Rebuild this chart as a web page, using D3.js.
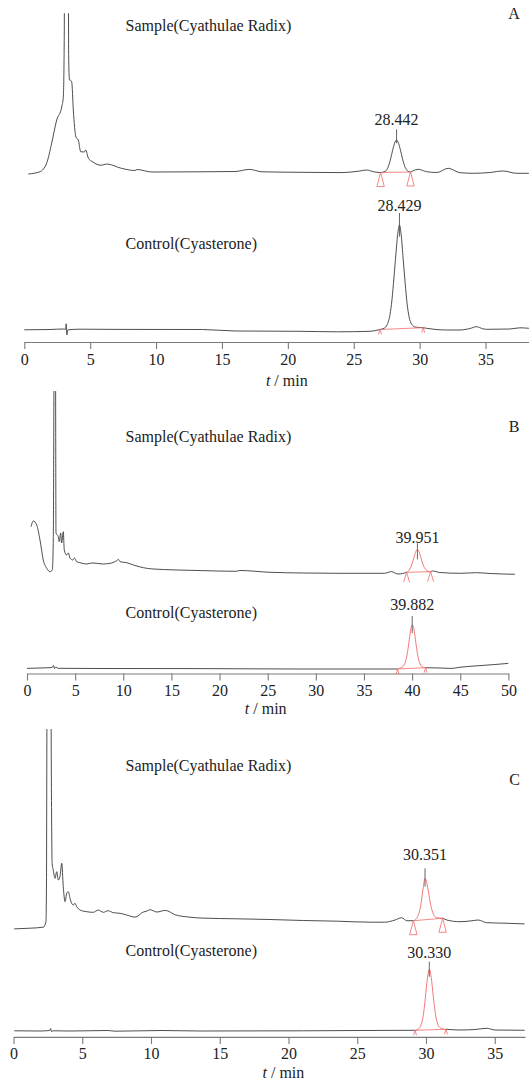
<!DOCTYPE html>
<html><head><meta charset="utf-8">
<script src="https://cdn.jsdelivr.net/npm/d3@7"></script>
<style>html,body{margin:0;padding:0;background:#fff;} svg{display:block;}</style>
</head><body>
<svg id="chart" width="529" height="1080"></svg>
<script>
// ===== data =====
const sampleTitle = "Sample(Cyathulae Radix)";
const controlTitle = "Control(Cyasterone)";
const panelLetters = ["A", "B", "C"];
const axisUnit = " / min";
const ticksA = [0, 5, 10, 15, 20, 25, 30, 35];
const ticksB = [0, 5, 10, 15, 20, 25, 30, 35, 40, 45, 50];
const ticksC = [0, 5, 10, 15, 20, 25, 30, 35];
const domainA = [0, 38.3];
const domainB = [0, 50];
const domainC = [0, 37.2];

// [time (min), signal (mAU above baseline)]
const sampleA = [[0.30,-0.7],[1.19,1.6],[1.70,10.3],[2.08,30.3],[2.46,53.3],[2.84,66.3],[2.96,76.3],[3.03,133],[3.10,400],[3.30,400],[3.37,113],[3.43,93.3],[3.51,93],[3.60,91.3],[3.72,63.3],[3.92,36.3],[4.10,33.3],[4.28,21.6],[4.55,21.3],[4.66,23.3],[4.86,15.3],[5.21,11.3],[5.83,8],[6.25,9.3],[7.37,5],[8.40,2.8],[8.55,3.8],[9.69,1.3],[13.33,1.5],[15.99,1.8],[17.10,3.9],[18.03,1.5],[20.92,1],[23.95,0.7],[25.47,2.3],[25.98,3.3],[26.48,1.6],[27.04,0.8],[27.40,2],[27.60,6],[27.80,14.5],[27.95,23],[28.10,30],[28.25,33.3],[28.40,30],[28.55,23],[28.70,14.5],[28.90,6],[29.10,2.2],[29.31,1.3],[29.51,2.6],[29.89,4],[30.53,1.6],[31.31,0.8],[32.17,5],[33.06,0.6],[34.07,0],[35.33,0.8],[36.34,2.3],[37.36,0],[38.29,0]];
const controlA = [[0,0],[1.95,0.3],[2.94,0.8],[3.13,0.5],[3.18,6],[3.23,-5],[3.30,0],[4.23,0.6],[7.26,0.4],[13.51,0.3],[16.06,-1.2],[20.92,-1.5],[23.76,-2],[26.23,-1.5],[26.99,0.3],[27.30,1.5],[27.55,5.5],[27.75,15],[27.90,30],[28.05,52],[28.20,76],[28.35,97],[28.47,104.8],[28.60,95],[28.75,71],[28.90,47],[29.05,26],[29.20,13],[29.40,5.5],[29.65,2.8],[30.00,2.3],[30.27,2.1],[30.53,1.5],[31.24,0.3],[32.05,-0.2],[33.06,-0.2],[33.82,1.3],[34.32,3.1],[34.80,1],[35.08,0.5],[36.85,0.8],[37.61,2],[38.29,1.5]];
const sampleB = [[0.42,47.3],[0.65,53],[1.01,49],[1.35,34],[1.69,14],[2.05,5.7],[2.39,2.3],[2.63,4],[2.73,34],[2.80,200],[2.86,420],[2.93,420],[2.98,150],[3.01,41],[3.25,37.3],[3.35,32.3],[3.50,41],[3.60,31],[3.77,42.3],[3.87,24],[4.12,19],[4.29,21],[4.47,16],[4.75,14],[4.93,16],[5.16,12.3],[5.50,11.3],[6.20,10],[6.75,11],[7.24,10.7],[7.92,10],[8.80,11],[9.31,13.3],[9.50,14.5],[9.66,12.3],[10.35,11.3],[11.21,8.5],[12.96,5.1],[18.21,3.4],[21.70,2.7],[22.12,3.5],[25.23,1.7],[28.72,1],[32.23,0.7],[37.13,0.7],[37.84,2.4],[38.53,0],[39.43,1.7],[39.70,4],[39.95,9],[40.15,15],[40.35,21.5],[40.55,24.5],[40.75,21.5],[40.95,15],[41.15,9],[41.40,4.5],[41.65,2.8],[41.92,2.3],[42.13,3],[42.89,1.5],[44.96,0.7],[46.70,1.3],[48.08,0.5],[50.67,-0.3]];
const controlB = [[0,0],[1.35,0.4],[2.60,0.9],[2.75,2.9],[2.86,-0.1],[3.01,1.4],[3.22,0.1],[7.58,-0.1],[17.96,-0.2],[28.35,-0.6],[38.49,-0.6],[38.80,0.5],[39.10,2.5],[39.35,8],[39.55,18],[39.75,32],[39.90,41],[40.01,43.4],[40.15,41],[40.30,32],[40.50,18],[40.70,8],[40.95,2.5],[41.20,1],[41.40,0.7],[42.89,0.4],[44.13,0],[44.84,1],[46.94,2.7],[48.60,3.9],[49.99,5]];
const sampleC = [[0.05,-5.4],[1.20,-4.7],[2.17,-3.7],[2.36,1.8],[2.40,43.5],[2.42,150],[2.48,400],[2.66,400],[2.72,250],[2.76,130],[2.81,60],[2.89,53.5],[3.02,45.2],[3.14,51.8],[3.26,43.5],[3.38,46.8],[3.51,60.2],[3.62,36.8],[3.75,21.8],[3.87,30.2],[3.99,31.8],[4.11,25.2],[4.23,20.2],[4.35,18.5],[4.47,20.2],[4.60,16.8],[4.84,13.5],[5.32,11.8],[5.80,11.2],[6.17,13.5],[6.53,11.2],[6.89,12.8],[7.26,10.8],[7.75,10.2],[8.23,8.5],[8.84,6.4],[9.45,11.5],[9.71,12.5],[9.93,13.8],[10.43,11.5],[11.04,13.1],[11.77,8.7],[12.76,6.4],[13.74,5.4],[16.20,4.7],[18.65,4],[21.10,3],[23.56,2.3],[26.01,1.3],[26.99,1.3],[27.75,3.5],[28.23,5.8],[28.60,2.8],[29.08,2.8],[29.30,5],[29.50,11],[29.65,21],[29.80,36],[29.93,45.2],[30.05,41],[30.20,30],[30.35,18],[30.55,9],[30.75,6],[31.00,5.5],[31.21,5.2],[31.51,3.5],[32.47,1.8],[33.20,2.5],[33.80,3.5],[34.41,0.8],[35.75,0.3],[37.17,-0.4]];
const controlC = [[0.05,-0.3],[1.93,-0.5],[2.62,0],[2.70,2],[2.76,-1],[2.87,-0.3],[4.11,-0.5],[6.87,0],[7.38,-0.7],[10.80,0],[13.56,-0.5],[21.10,-0.3],[25.20,0],[29.20,0.2],[29.45,1.5],[29.65,6],[29.80,15],[29.95,32],[30.10,52],[30.24,61.2],[30.38,53],[30.53,34],[30.68,17],[30.85,6.5],[31.05,2.5],[31.25,1.4],[31.45,1.2],[32.47,0.5],[33.56,1],[34.41,2.2],[35.02,0.5],[37.17,0.2]];

// peak annotations (sample A, control A, sample B, control B, sample C, control C)
const peakLabels = ["28.442", "28.429", "39.951", "39.882", "30.351", "30.330"];
const peakApex   = [28.25, 28.47, 40.55, 40.01, 29.93, 30.24];
const peakStart  = [27.04, 26.99, 39.43, 38.49, 29.08, 29.20];
const peakEnd    = [29.31, 30.27, 41.92, 41.40, 31.21, 31.45];

// ===== layout (positions / styles) =====
const FONT = "'Liberation Serif','Times New Roman',Times,serif";
const RED = "#f06a6a";
const INK = "#3a3a3a";
const layout = [
  { ticks: ticksA, domain: domainA, xRange: [24.3, 529], axisY: 342, tickPad: 5, axisLabel: [286.8, 380.6], letter: [514, 13.8],
    traces: [
      { data: sampleA, title: sampleTitle, base: 173.3, clipTop: 13.3, titlePos: [125.5, 26], labelY: 120, mline: [129.3, 143.3], red: false, marker: "tri" },
      { data: controlA, title: controlTitle, base: 329.8, clipTop: 180, titlePos: [125.5, 244.1], labelY: 205.5, mline: [213, 236.7], red: false, marker: "chev" }
    ] },
  { ticks: ticksB, domain: domainB, xRange: [27, 508.4], axisY: 673.5, tickPad: 4, axisLabel: [265.7, 708.7], letter: [514, 426.2],
    traces: [
      { data: sampleB, title: sampleTitle, base: 574, clipTop: 391, titlePos: [125.5, 437.3], labelY: 537.3, mline: [543.3, 559.3], red: true, marker: "wedge" },
      { data: controlB, title: controlTitle, base: 668.4, clipTop: 580, titlePos: [125.5, 612.8], labelY: 604.3, mline: [616, 633], red: true, marker: "chev" }
    ] },
  { ticks: ticksC, domain: domainC, xRange: [13.5, 525], axisY: 1036.9, tickPad: 4, axisLabel: [283.4, 1072.5], letter: [514.5, 779.5],
    traces: [
      { data: sampleC, title: sampleTitle, base: 923.5, clipTop: 729, titlePos: [125.5, 766], labelY: 854.3, mline: [868.3, 886.7], red: true, marker: "tri" },
      { data: controlC, title: controlTitle, base: 1030.5, clipTop: 940, titlePos: [125.5, 950.8], labelY: 952.3, mline: [961.7, 976.7], red: true, marker: "chev" }
    ] }
];

const svg = d3.select("#chart");
const defs = svg.append("defs");

function markerPath(type, px, py) {
  if (type === "tri") return `M${px},${py} L${px-3.7},${py+14} L${px+3.7},${py+14} Z`;
  if (type === "wedge") return `M${px-3},${py+10} L${px},${py} L${px+3},${py+10}`;
  return `M${px-1.5},${py+5} L${px},${py} L${px+1.5},${py+5}`;
}

let pk = 0;
layout.forEach((panel, pi) => {
  const x = d3.scaleLinear().domain(panel.domain).range(panel.xRange);
  const g = svg.append("g");

  panel.traces.forEach((tr, ti) => {
    const y = d3.scaleLinear().domain([0, 100]).range([tr.base, tr.base - 100]);
    const line = d3.line().x(d => x(d[0])).y(d => y(d[1])).curve(d3.curveMonotoneX);
    const i = pk++;
    const s = peakStart[i], e = peakEnd[i];
    const xs = x(s), xe = x(e);
    const h = tr.base + 40 - tr.clipTop;

    // clip for the black trace (excluding red peak window when red)
    const cid = `clip${pi}_${ti}`;
    const cp = defs.append("clipPath").attr("id", cid);
    if (tr.red) {
      cp.append("rect").attr("x", 0).attr("y", tr.clipTop).attr("width", xs).attr("height", h);
      cp.append("rect").attr("x", xe).attr("y", tr.clipTop).attr("width", 529 - xe).attr("height", h);
    } else {
      cp.append("rect").attr("x", 0).attr("y", tr.clipTop).attr("width", 529).attr("height", h);
    }
    const rid = `rclip${pi}_${ti}`;
    defs.append("clipPath").attr("id", rid).append("rect")
      .attr("x", xs).attr("y", tr.clipTop).attr("width", xe - xs).attr("height", h);

    g.append("g").attr("clip-path", `url(#${cid})`)
      .append("path").datum(tr.data).attr("d", line)
      .attr("fill", "none").attr("stroke", INK).attr("stroke-width", 0.9).attr("stroke-linejoin", "round");
    if (tr.red) {
      g.append("g").attr("clip-path", `url(#${rid})`)
        .append("path").datum(tr.data).attr("d", line)
        .attr("fill", "none").attr("stroke", RED).attr("stroke-width", 0.9);
    }

    const seg = tr.data.filter(d => d[0] >= s - 1e-6 && d[0] <= e + 1e-6);
    const p0 = seg[0], p1 = seg[seg.length - 1];
    // integration baseline
    g.append("line").attr("x1", x(p0[0])).attr("y1", y(p0[1])).attr("x2", x(p1[0])).attr("y2", y(p1[1]))
      .attr("stroke", RED).attr("stroke-width", 0.8);
    [p0, p1].forEach(p => {
      g.append("path").attr("d", markerPath(tr.marker, x(p[0]), y(p[1])))
        .attr("fill", "none").attr("stroke", RED).attr("stroke-width", 0.8);
    });
    // apex marker + label
    const ax = x(peakApex[i]);
    g.append("line").attr("x1", ax).attr("x2", ax).attr("y1", tr.mline[0]).attr("y2", tr.mline[1])
      .attr("stroke", "#555").attr("stroke-width", 0.9);
    g.append("text").attr("x", ax).attr("y", tr.labelY + 5.4).attr("text-anchor", "middle")
      .attr("font-family", FONT).attr("font-size", 16).attr("fill", "#222").text(peakLabels[i]);
    // title
    g.append("text").attr("x", tr.titlePos[0]).attr("y", tr.titlePos[1] + 4.8)
      .attr("font-family", FONT).attr("font-size", 16).attr("fill", "#222").text(tr.title);
  });

  // axis
  const axis = d3.axisBottom(x).tickValues(panel.ticks).tickFormat(d3.format("d"))
    .tickSize(7).tickSizeOuter(0).tickPadding(panel.tickPad);
  const ag = svg.append("g").attr("transform", `translate(0,${panel.axisY})`).call(axis);
  ag.select(".domain").attr("stroke", "#7a7a7a").attr("stroke-width", 1.1);
  ag.selectAll(".tick line").attr("stroke", "#7a7a7a").attr("stroke-width", 1.1);
  ag.selectAll(".tick text").attr("font-family", FONT).attr("font-size", 16).attr("fill", "#222");

  const at = svg.append("text").attr("x", panel.axisLabel[0]).attr("y", panel.axisLabel[1] + 5)
    .attr("text-anchor", "middle").attr("font-family", FONT).attr("font-size", 16).attr("fill", "#222");
  at.append("tspan").attr("font-style", "italic").text("t");
  at.append("tspan").text(axisUnit);

  svg.append("text").attr("x", panel.letter[0]).attr("y", panel.letter[1] + 5.5).attr("text-anchor", "middle")
    .attr("font-family", FONT).attr("font-size", 16).attr("fill", "#222").text(panelLetters[pi]);
});
</script>
</body></html>
